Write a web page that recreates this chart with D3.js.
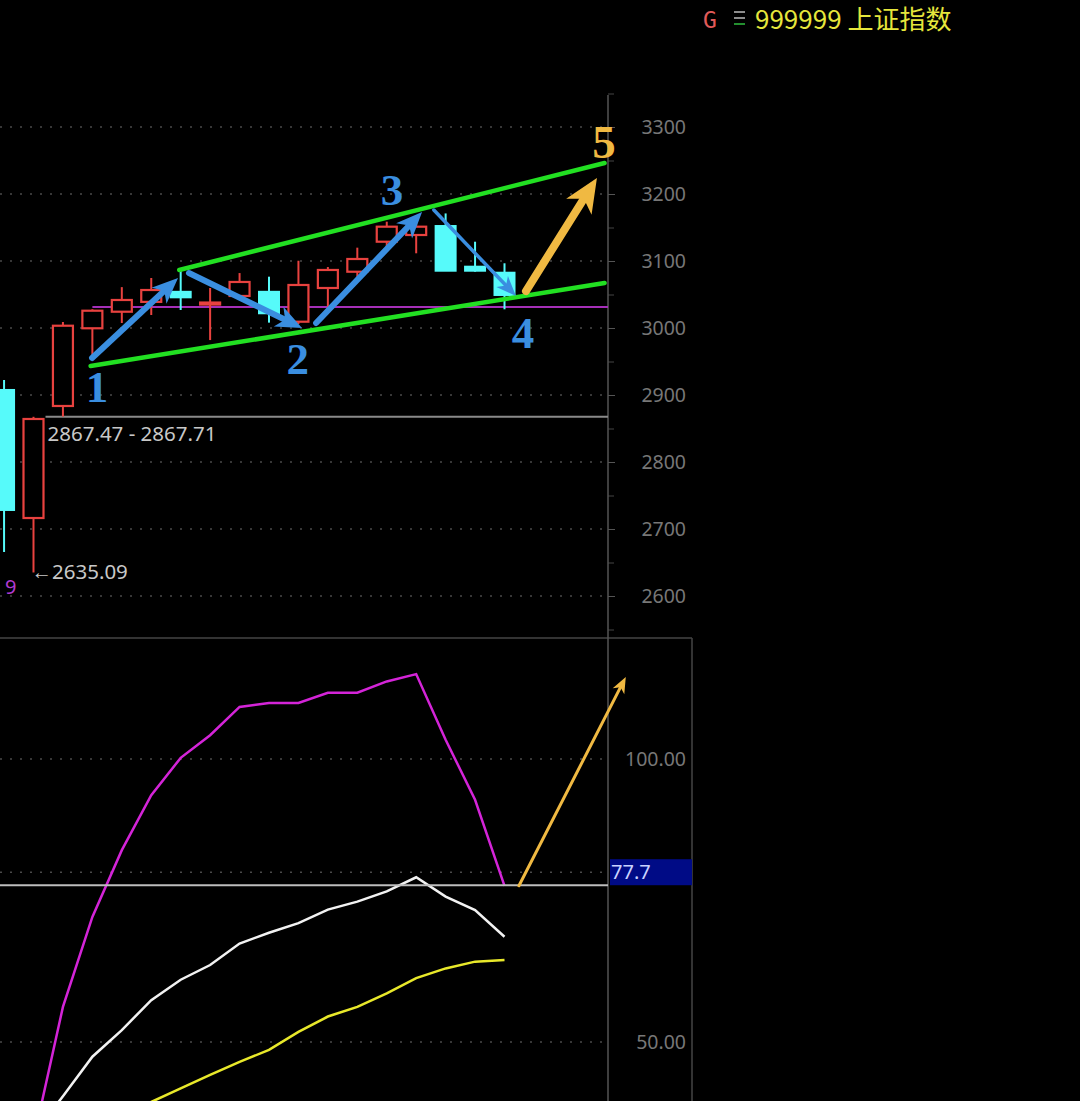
<!DOCTYPE html>
<html><head><meta charset="utf-8">
<script src="https://cdn.jsdelivr.net/npm/d3@7"></script>
<style>html,body{margin:0;padding:0;background:#000;}svg{display:block;}</style>
</head><body>
<svg id="c" width="1080" height="1101"></svg>
<script>
// ---------- data ----------
const candleIndex = [0,1,2,3,4,5,6,7,8,9,10,11,12,13,14,15,16,17];
const opens  = [2907.5,2716.4,2883.6,2999.6,3024.3,3039.0,3054.0,3036.6,3047.8,3054.0,3009.4,3059.7,3084.0,3128.8,3138.8,3152.2,3091.5,3082.5];
const closes = [2728.4,2864.2,3003.4,3025.8,3041.8,3056.7,3045.8,3038.0,3068.7,3022.0,3064.2,3086.6,3103.0,3151.2,3151.2,3085.5,3085.5,3049.3];
const highs  = [2922.4,2867.47,3009.0,3028.0,3061.0,3074.6,3089.6,3059.7,3082.0,3076.6,3100.4,3091.0,3119.9,3158.7,3158.0,3171.0,3128.8,3096.6];
const lows   = [2665.7,2635.09,2867.71,2955.0,3007.5,3019.4,3026.9,2982.0,3041.8,3008.0,3006.0,3029.9,3076.6,3121.3,3111.5,3085.5,3084.0,3027.9];
const jValues = [null,32.7,56.2,72.1,83.9,93.6,100.2,104.2,109.2,109.9,109.9,111.7,111.7,113.7,115.0,103.4,92.8,77.6];
const kValues = [null,33.7,40.4,47.4,52.1,57.4,61.0,63.6,67.4,69.3,71.0,73.4,74.8,76.6,79.1,75.7,73.3,68.6];
const dValues = [null,29.5,32.0,34.5,37.0,39.4,41.8,44.2,46.5,48.6,51.8,54.5,56.2,58.6,61.3,63.0,64.2,64.5];
const priceTicks = [2600,2700,2800,2900,3000,3100,3200,3300];
const priceMinorTicks = [2550,2650,2750,2850,2950,3050,3150,3250,3350];
const indTicks = [100,50];
const indGrid = [100,80,50];
const gapLow = 2867.47, gapHigh = 2867.71, lowPoint = 2635.09;
const supportLevel = 3031.3;
const lastJ = 77.7;
const channelLower = [[2.94,2943.3],[20.4,3067.2]];
const channelUpper = [[5.95,3086.6],[20.4,3246.3]];
const waveArrows = [
  {from:[2.99,2955.2], to:[5.91,3074.6], color:"#3a8ee0", w:6, hl:26, hw:22},
  {from:[6.28,3082.0], to:[10.12,3000.0], color:"#3a8ee0", w:6, hl:26, hw:22},
  {from:[10.6,3007.5], to:[14.2,3173.0], color:"#3a8ee0", w:6, hl:26, hw:22},
  {from:[14.6,3176.0], to:[17.39,3047.8], color:"#3a8ee0", w:3.5, hl:20, hw:16},
  {from:[17.73,3055.2], to:[20.14,3223.9], color:"#f0b942", w:8, hl:34, hw:30}
];
const waveLabels = [
  {t:"1", i:3.16, p:2889.6, color:"#3a8ee0"},
  {t:"2", i:9.98, p:2931.3, color:"#3a8ee0"},
  {t:"3", i:13.18, p:3183.6, color:"#3a8ee0"},
  {t:"4", i:17.63, p:2970.1, color:"#3a8ee0"},
  {t:"5", i:20.38, p:3253.7, color:"#f0b942"}
];
const indArrow = {from:[17.49,77.6], to:[21.12,114.5]};

// ---------- scales ----------
const svg = d3.select("#c");
const x = d3.scaleLinear().domain([0,17]).range([4.06,504.5]);
const y = d3.scaleLinear().domain([2600,3300]).range([596,127]);
const yi = d3.scaleLinear().domain([50,100]).range([1042,759]);
const AX = 608;

const defs = svg.append("defs");
defs.append("clipPath").attr("id","clipTop").append("rect").attr("x",0).attr("y",90).attr("width",AX).attr("height",548);
defs.append("clipPath").attr("id","clipBot").append("rect").attr("x",0).attr("y",639).attr("width",AX).attr("height",470);

// grid
svg.append("g").selectAll("line").data(priceTicks).join("line")
  .attr("x1",0).attr("x2",AX).attr("y1",d=>y(d)).attr("y2",d=>y(d))
  .attr("stroke","#4a4a4a").attr("stroke-width",1.5).attr("stroke-dasharray","2,8");
svg.append("g").selectAll("line").data(indGrid).join("line")
  .attr("x1",0).attr("x2",AX).attr("y1",d=>yi(d)).attr("y2",d=>yi(d))
  .attr("stroke","#4a4a4a").attr("stroke-width",1.5).attr("stroke-dasharray","2,8");

// frame lines
svg.append("line").attr("x1",0).attr("x2",692).attr("y1",638).attr("y2",638).attr("stroke","#444").attr("stroke-width",1.5);
svg.append("line").attr("x1",692).attr("x2",692).attr("y1",638).attr("y2",1101).attr("stroke","#444").attr("stroke-width",1.5);

// price axis
const lf = "Noto Sans, Open Sans, sans-serif";
const pAxis = d3.axisRight(y).tickValues(priceTicks).tickSize(7).tickPadding(0).tickFormat(d3.format("d"));
const pg = svg.append("g").attr("transform",`translate(${AX},0)`).call(pAxis);
pg.select(".domain").remove();
pg.selectAll(".tick line").attr("stroke","#555");
pg.selectAll(".tick text").attr("x",78).attr("text-anchor","end").attr("fill","#777")
  .attr("font-family",lf).attr("font-size",19.5);
const mAxis = d3.axisRight(y).tickValues(priceMinorTicks).tickSize(6).tickFormat("");
const mg = svg.append("g").attr("transform",`translate(${AX},0)`).call(mAxis);
mg.select(".domain").remove();
mg.selectAll(".tick line").attr("stroke","#444");
svg.append("line").attr("x1",AX).attr("x2",AX).attr("y1",95).attr("y2",1101).attr("stroke","#555").attr("stroke-width",1.5);

// indicator axis
const iAxis = d3.axisRight(yi).tickValues(indTicks).tickSize(0).tickFormat(d3.format(".2f"));
const ig = svg.append("g").attr("transform",`translate(${AX},0)`).call(iAxis);
ig.select(".domain").remove();
ig.selectAll(".tick text").attr("x",78).attr("text-anchor","end").attr("fill","#777")
  .attr("font-family",lf).attr("font-size",19.5);

// ---------- upper panel ----------
const topG = svg.append("g").attr("clip-path","url(#clipTop)");
topG.append("line").attr("x1",x(1)+12).attr("x2",AX).attr("y1",y(gapLow)).attr("y2",y(gapLow))
  .attr("stroke","#8a8a8a").attr("stroke-width",2);
topG.append("line").attr("x1",x(3)).attr("x2",AX).attr("y1",y(supportLevel)).attr("y2",y(supportLevel))
  .attr("stroke","#a52fb8").attr("stroke-width",2);

const RED = "#e8423f", CYAN = "#56fafa";
const cw = 20;
const cg = topG.append("g");
candleIndex.forEach(i=>{
  const up = closes[i] >= opens[i];
  const col = up ? RED : CYAN;
  const g = cg.append("g");
  const bt = y(Math.max(opens[i],closes[i])), bb = y(Math.min(opens[i],closes[i]));
  g.append("line").attr("x1",x(i)).attr("x2",x(i)).attr("y1",y(highs[i])).attr("y2",bt).attr("stroke",col).attr("stroke-width",2);
  g.append("line").attr("x1",x(i)).attr("x2",x(i)).attr("y1",bb).attr("y2",y(lows[i])).attr("stroke",col).attr("stroke-width",2);
  const h = Math.max(bb-bt, 2);
  if (up) {
    g.append("rect").attr("x",x(i)-cw/2).attr("y",bt).attr("width",cw).attr("height",h)
      .attr("fill","#000").attr("stroke",col).attr("stroke-width",2.2);
  } else {
    g.append("rect").attr("x",x(i)-cw/2-1).attr("y",bt-1).attr("width",cw+2).attr("height",h+2)
      .attr("fill",col);
  }
});

[channelLower, channelUpper].forEach(c=>{
  topG.append("line").attr("x1",x(c[0][0])).attr("y1",y(c[0][1])).attr("x2",x(c[1][0])).attr("y2",y(c[1][1]))
    .attr("stroke","#22e022").attr("stroke-width",4.5).attr("stroke-linecap","round");
});

function arrow(g, x1,y1,x2,y2,color,w,hl,hw){
  const dx=x2-x1, dy=y2-y1, L=Math.hypot(dx,dy), ux=dx/L, uy=dy/L, nx=-uy, ny=ux;
  const bx=x2-ux*hl, by=y2-uy*hl;
  const kx=x2-ux*hl*0.72, ky=y2-uy*hl*0.72;
  g.append("line").attr("x1",x1).attr("y1",y1).attr("x2",kx).attr("y2",ky)
    .attr("stroke",color).attr("stroke-width",w).attr("stroke-linecap","round");
  g.append("path").attr("d",`M${x2},${y2}L${bx+nx*hw/2},${by+ny*hw/2}L${kx},${ky}L${bx-nx*hw/2},${by-ny*hw/2}Z`)
    .attr("fill",color);
}
const ag = svg.append("g");
waveArrows.forEach(a=>arrow(ag, x(a.from[0]),y(a.from[1]),x(a.to[0]),y(a.to[1]),a.color,a.w,a.hl,a.hw));

svg.append("g").selectAll("text").data(waveLabels).join("text")
  .attr("x",d=>x(d.i)).attr("y",d=>y(d.p)).attr("text-anchor","middle")
  .attr("fill",d=>d.color).attr("font-family","Liberation Serif, DejaVu Serif, serif")
  .attr("font-weight","bold").attr("font-size",d=>d.t==="5"?47:45).text(d=>d.t);

svg.append("text").attr("x",x(1)+14).attr("y",y(gapLow)+24).attr("fill","#c8c8c8").attr("font-family",lf).attr("font-size",20.5)
  .text(`${gapLow.toFixed(2)} - ${gapHigh.toFixed(2)}`);
svg.append("text").attr("x",x(1)-2).attr("y",y(lowPoint)+7).attr("fill","#c8c8c8").attr("font-family",lf).attr("font-size",20.5)
  .text(`\u2190${lowPoint.toFixed(2)}`);
svg.append("text").attr("x",5).attr("y",594).attr("fill","#b03ad0").attr("font-family",lf).attr("font-size",20).text("9");

// ---------- lower panel ----------
const botG = svg.append("g").attr("clip-path","url(#clipBot)");
const line = d3.line().defined(d=>d[1]!=null).x(d=>x(d[0])).y(d=>yi(d[1]));
botG.append("path").datum(candleIndex.map(i=>[i,dValues[i]])).attr("d",line).attr("fill","none").attr("stroke","#e8e82a").attr("stroke-width",2.5);
botG.append("path").datum(candleIndex.map(i=>[i,kValues[i]])).attr("d",line).attr("fill","none").attr("stroke","#f2f2f2").attr("stroke-width",2.5);
botG.append("path").datum(candleIndex.map(i=>[i,jValues[i]])).attr("d",line).attr("fill","none").attr("stroke","#d424d8").attr("stroke-width",2.5);
svg.append("line").attr("x1",0).attr("x2",AX).attr("y1",yi(lastJ)).attr("y2",yi(lastJ)).attr("stroke","#bdbdbd").attr("stroke-width",2);
svg.append("rect").attr("x",AX+2).attr("y",yi(lastJ)-26).attr("width",82).attr("height",26).attr("fill","#000b86");
svg.append("text").attr("x",AX+3).attr("y",yi(lastJ)-6).attr("fill","#c9d2ff").attr("font-family",lf).attr("font-size",20).text(lastJ.toFixed(1));
arrow(svg.append("g"), x(indArrow.from[0]),yi(indArrow.from[1]),x(indArrow.to[0]),yi(indArrow.to[1]),"#f0b942",3,16,13);

// ---------- header ----------
const hd = svg.append("g");
hd.append("text").attr("x",703).attr("y",28).attr("fill","#e05a5a").attr("font-family","DejaVu Sans Mono, monospace").attr("font-size",23).text("G");
[["#bbb",12],["#bbb",18],["#2fbf3f",24]].forEach(([c,yy])=>{
  hd.append("line").attr("x1",734).attr("x2",745).attr("y1",yy).attr("y2",yy).attr("stroke",c).attr("stroke-width",1.5);
});
hd.append("text").attr("x",755).attr("y",29).attr("fill","#e6e63c").attr("font-family","Noto Sans CJK SC, Noto Sans, sans-serif").attr("font-size",26).text("999999 上证指数");
</script>
</body></html>
